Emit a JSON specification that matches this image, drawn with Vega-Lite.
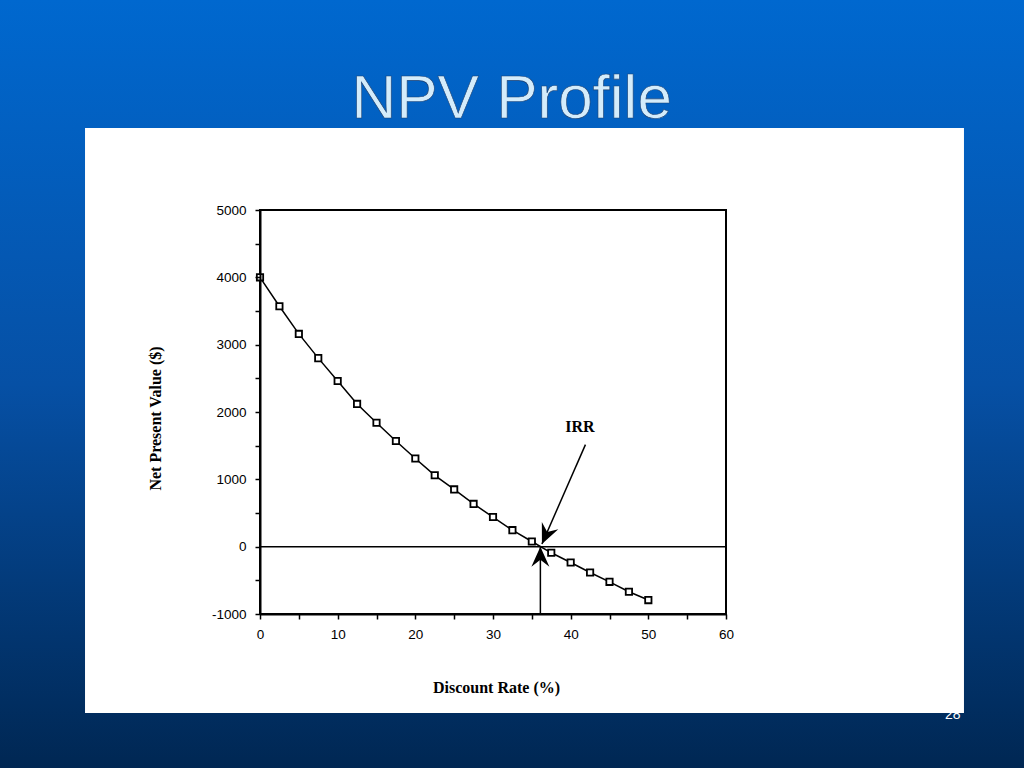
{
  "$schema": "https://vega.github.io/schema/vega-lite/v6.json",
  "width": 1024,
  "height": 768,
  "autosize": {"type": "none"},
  "padding": 0,
  "background": "#0a4f9f",
  "config": {
    "view": {
      "stroke": null,
      "fill": {
        "gradient": "linear",
        "x1": 0, "y1": 0, "x2": 0, "y2": 1,
        "stops": [
          {"offset": 0, "color": "#0068cf"},
          {"offset": 0.5, "color": "#0650a5"},
          {"offset": 1, "color": "#002753"}
        ]
      }
    },
    "axis": {
      "grid": false,
      "zindex": 1,
      "labelFont": "Liberation Sans",
      "labelFontSize": 13.5,
      "labelColor": "black",
      "labelPadding": 8,
      "labelFlush": false,
      "labelOverlap": false,
      "titleFont": "Liberation Serif",
      "titleFontSize": 16,
      "titleFontWeight": "bold",
      "titleColor": "black",
      "tickColor": "black",
      "tickSize": 5,
      "tickWidth": 1.5,
      "domainColor": "black",
      "domainWidth": 2
    }
  },
  "datasets": {
    "npv": [
      {"rate": 0, "npv": 4000},
      {"rate": 2.5, "npv": 3570},
      {"rate": 5, "npv": 3160},
      {"rate": 7.5, "npv": 2800},
      {"rate": 10, "npv": 2460},
      {"rate": 12.5, "npv": 2120},
      {"rate": 15, "npv": 1840},
      {"rate": 17.5, "npv": 1570},
      {"rate": 20, "npv": 1310},
      {"rate": 22.5, "npv": 1060},
      {"rate": 25, "npv": 850},
      {"rate": 27.5, "npv": 635},
      {"rate": 30, "npv": 440},
      {"rate": 32.5, "npv": 245},
      {"rate": 35, "npv": 77},
      {"rate": 37.5, "npv": -91},
      {"rate": 40, "npv": -235},
      {"rate": 42.5, "npv": -383},
      {"rate": 45, "npv": -522},
      {"rate": 47.5, "npv": -670},
      {"rate": 50, "npv": -793}
    ],
    "one": [{"page": "28", "label": "IRR", "heading": "NPV Profile"}]
  },
  "encoding": {
    "x": {
      "type": "quantitative",
      "scale": {"domain": [0, 60], "range": [260, 726]},
      "axis": {
        "values": [0, 5, 10, 15, 20, 25, 30, 35, 40, 45, 50, 55, 60],
        "labelExpr": "datum.value % 10 === 0 ? '' + datum.value : ''",
        "offset": -154,
        "zindex": 2,
        "title": "Discount Rate (%)",
        "titleX": 496,
        "titleY": 73,
        "titleBaseline": "middle"
      }
    },
    "y": {
      "type": "quantitative",
      "scale": {"domain": [-1000, 5000], "range": [614, 210], "nice": false},
      "axis": {
        "values": [-1000, -500, 0, 500, 1000, 1500, 2000, 2500, 3000, 3500, 4000, 4500, 5000],
        "labelExpr": "datum.value % 1000 === 0 ? '' + datum.value : ''",
        "offset": -260,
        "zindex": 2,
        "labelPadding": 9,
        "title": "Net Present Value ($)",
        "titleX": -105,
        "titleY": 418,
        "titleBaseline": "middle"
      }
    }
  },
  "layer": [
    {
      "data": {"name": "one"},
      "mark": {"type": "text", "color": "white", "font": "Liberation Sans", "fontSize": 14, "baseline": "alphabetic", "align": "center"},
      "encoding": {
        "x": {"datum": 89.2},
        "y": {"datum": -2559},
        "text": {"field": "page"}
      }
    },
    {
      "data": {"name": "one"},
      "mark": {"type": "rect", "fill": "white"},
      "encoding": {
        "x": {"datum": -22.53},
        "x2": {"datum": 90.64},
        "y": {"datum": 6218},
        "y2": {"datum": -2470}
      }
    },
    {
      "data": {"name": "one"},
      "mark": {"type": "text", "color": "#d4ecfb", "font": "Liberation Sans", "fontSize": 62, "baseline": "alphabetic", "align": "center", "stroke": "#1b3f70", "strokeWidth": 0.6},
      "encoding": {
        "x": {"datum": 32.4},
        "y": {"datum": 6366},
        "text": {"field": "heading"}
      }
    },
    {
      "data": {"name": "one"},
      "mark": {"type": "rect", "fill": null, "stroke": "black", "strokeWidth": 2},
      "encoding": {
        "x": {"datum": 0},
        "x2": {"datum": 60},
        "y": {"datum": -1000},
        "y2": {"datum": 5000}
      }
    },
    {
      "data": {"name": "one"},
      "mark": {"type": "rule", "color": "black", "strokeWidth": 1.5},
      "encoding": {
        "x": {"datum": 0},
        "x2": {"datum": 60},
        "y": {"datum": 0}
      }
    },
    {
      "data": {"name": "one"},
      "mark": {"type": "rule", "color": "black", "strokeWidth": 1.5},
      "encoding": {
        "x": {"datum": 36.1},
        "y": {"datum": -1000},
        "y2": {"datum": 0}
      }
    },
    {
      "data": {"name": "one"},
      "mark": {"type": "rule", "color": "black", "strokeWidth": 1.5},
      "encoding": {
        "x": {"datum": 41.9},
        "x2": {"datum": 36.3},
        "y": {"datum": 1515},
        "y2": {"datum": 40}
      }
    },
    {
      "data": {"name": "npv"},
      "mark": {
        "type": "line",
        "color": "black",
        "strokeWidth": 1.5,
        "point": {"shape": "square", "filled": true, "fill": "white", "stroke": "black", "strokeWidth": 1.8, "size": 40}
      },
      "encoding": {
        "x": {"field": "rate"},
        "y": {"field": "npv"}
      }
    },
    {
      "data": {"name": "one"},
      "mark": {"type": "point", "shape": "M0,0L0.45,1L0,0.65L-0.45,1Z", "filled": true, "color": "black", "opacity": 1, "size": 1600},
      "encoding": {
        "x": {"datum": 36.1},
        "y": {"datum": 0}
      }
    },
    {
      "data": {"name": "one"},
      "mark": {"type": "point", "shape": "M0,0L0.45,1L0,0.65L-0.45,1Z", "filled": true, "color": "black", "opacity": 1, "size": 1600, "angle": 204},
      "encoding": {
        "x": {"datum": 36.3},
        "y": {"datum": 40}
      }
    },
    {
      "data": {"name": "one"},
      "mark": {"type": "text", "color": "black", "font": "Liberation Serif", "fontSize": 16, "fontWeight": "bold", "baseline": "middle", "align": "center"},
      "encoding": {
        "x": {"datum": 41.2},
        "y": {"datum": 1777},
        "text": {"field": "label"}
      }
    }
  ]
}
